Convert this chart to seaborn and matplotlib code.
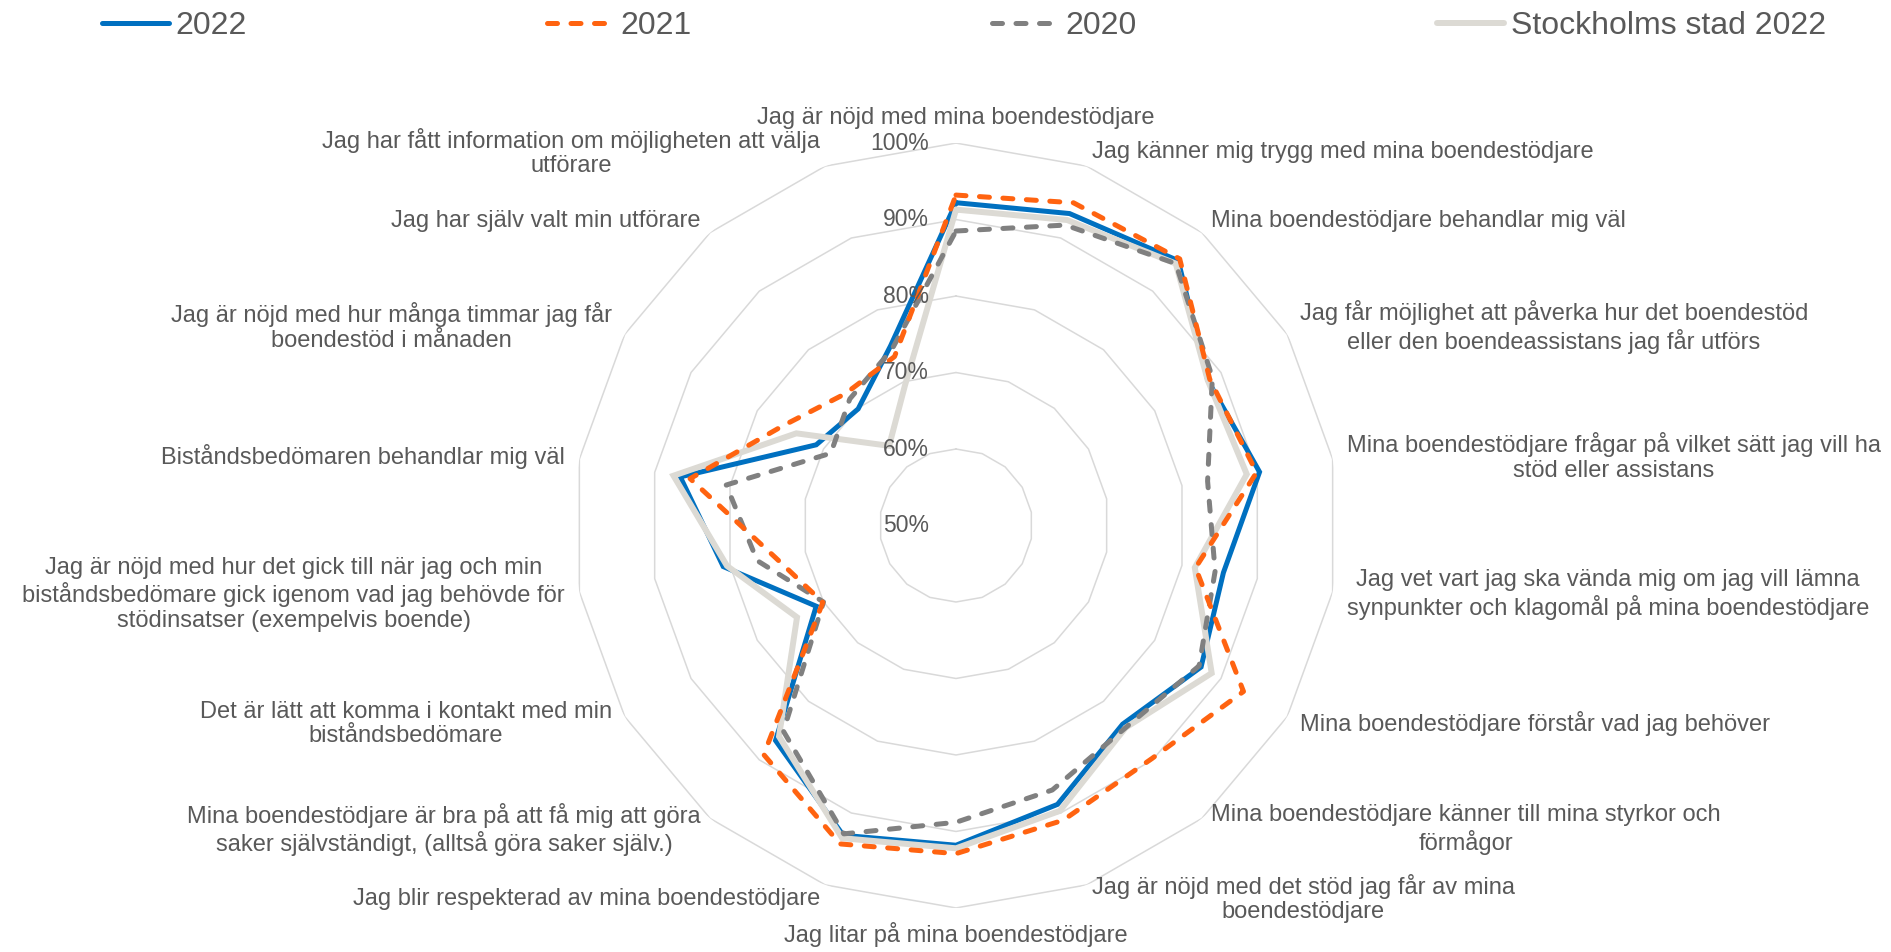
import numpy as np
import pandas as pd
import matplotlib
matplotlib.use("Agg")
import matplotlib.pyplot as plt
import seaborn as sns
from matplotlib.lines import Line2D

# ---------------- data ----------------
categories = [
    "Jag är nöjd med mina boendestödjare",
    "Jag känner mig trygg med mina boendestödjare",
    "Mina boendestödjare behandlar mig väl",
    "Jag får möjlighet att påverka hur det boendestöd\neller den boendeassistans jag får utförs",
    "Mina boendestödjare frågar på vilket sätt jag vill ha\nstöd eller assistans",
    "Jag vet vart jag ska vända mig om jag vill lämna\nsynpunkter och klagomål på mina boendestödjare",
    "Mina boendestödjare förstår vad jag behöver",
    "Mina boendestödjare känner till mina styrkor och\nförmågor",
    "Jag är nöjd med det stöd jag får av mina\nboendestödjare",
    "Jag litar på mina boendestödjare",
    "Jag blir respekterad av mina boendestödjare",
    "Mina boendestödjare är bra på att få mig att göra\nsaker självständigt, (alltså göra saker själv.)",
    "Det är lätt att komma i kontakt med min\nbiståndsbedömare",
    "Jag är nöjd med hur det gick till när jag och min\nbiståndsbedömare gick igenom vad jag behövde för\nstödinsatser (exempelvis boende)",
    "Biståndsbedömaren behandlar mig väl",
    "Jag är nöjd med hur många timmar jag får\nboendestöd i månaden",
    "Jag har själv valt min utförare",
    "Jag har fått information om möjligheten att välja\nutförare",
]

v2022 = [92.2, 93.4, 95.2, 88.0, 90.3, 85.5, 87.0, 83.9, 88.8,
         91.8, 93.1, 86.7, 71.1, 80.9, 86.6, 71.1, 69.9, 75.0]
v2021 = [93.2, 94.9, 95.5, 88.3, 89.9, 81.8, 93.4, 89.8, 91.0,
         92.9, 94.3, 89.1, 70.1, 74.0, 85.3, 76.1, 72.5, 73.5]
v2020 = [88.5, 91.8, 94.7, 88.7, 83.4, 84.4, 86.7, 84.5, 86.8,
         88.8, 92.9, 85.1, 70.0, 76.4, 80.5, 68.9, 71.6, 74.5]
vsthlm = [91.3, 92.5, 94.7, 88.0, 88.6, 81.7, 88.6, 84.5, 89.7,
          92.2, 93.5, 86.0, 74.0, 80.4, 87.5, 74.1, 63.6, 69.5]

series_names = ["2022", "2021", "2020", "Stockholms stad 2022"]
ticks = [50, 60, 70, 80, 90, 100]

# ---------------- style ----------------
sns.set_theme(style="white")
plt.rcParams["font.family"] = ["Liberation Sans", "DejaVu Sans"]
TXT = "#595959"

styles = {
    "2022": dict(color="#0070C0", lw=3.6, dash=None, z=3),
    "2021": dict(color="#FF6310", lw=3.6, dash=(2.0, 2.7), z=6),
    "2020": dict(color="#808080", lw=3.6, dash=(2.0, 2.7), z=5),
    "Stockholms stad 2022": dict(color="#DCDAD4", lw=4.3, dash=None, z=4),
}
values = {"2022": v2022, "2021": v2021, "2020": v2020, "Stockholms stad 2022": vsthlm}

fig = plt.figure(figsize=(18.91, 9.52), dpi=100)
ax = fig.add_axes([0.3033, 0.0462, 0.4045, 0.8036], projection="polar")
ax.set_theta_offset(np.pi / 2)
ax.set_theta_direction(-1)

n = len(categories)
theta = np.arange(n) * 2 * np.pi / n
closed = np.append(theta, 2 * np.pi)

# polygon grid rings
for t in ticks[1:]:
    ax.plot(closed, [t] * (n + 1), color="#D9D9D9", lw=1.1, zorder=1)

handles = []
for name in series_names:
    st = styles[name]
    vals = values[name]
    df = pd.DataFrame({"theta": closed, "value": list(vals) + [vals[0]]})
    sns.lineplot(data=df, x="theta", y="value", ax=ax, color=st["color"],
                 linewidth=st["lw"], sort=False, estimator=None, zorder=st["z"])
    line = ax.lines[-1]
    line.set_solid_capstyle("round")
    line.set_solid_joinstyle("miter")
    if st["dash"] is not None:
        line.set_dashes(st["dash"])
        line.set_dash_capstyle("round")
    h = Line2D([0], [0], color=st["color"], lw=st["lw"], solid_capstyle="round",
               dash_capstyle="round")
    if st["dash"] is not None:
        h.set_dashes(st["dash"])
    handles.append(h)

ax.set_ylim(50, 100)
ax.grid(False)
ax.spines["polar"].set_visible(False)
ax.set_xticks([])
ax.set_yticks([])
ax.set_xlabel("")
ax.set_ylabel("")
ax.set_facecolor("white")

# radial tick labels
for t in ticks:
    ax.annotate(f"{t}%", xy=(0, t), xytext=(-19.5, 0), textcoords="offset points",
                ha="right", va="center", fontsize=16.5, color=TXT,
                annotation_clip=False, zorder=10)

# category labels
for th, lab in zip(theta, categories):
    s, c = np.sin(th), np.cos(th)
    if abs(s) < 1e-6:
        ha = "center"
        va = "bottom" if c > 0 else "top"
    else:
        ha = "left" if s > 0 else "right"
        va = "center"
    ax.text(th, 101.9, lab, ha=ha, va=va, multialignment="center",
            fontsize=17, color=TXT, clip_on=False, linespacing=1.17)

fig.legend(handles, series_names, loc="upper left",
           bbox_to_anchor=(102 / 1891, 1 - 11 / 952), ncol=4, frameon=False,
           fontsize=23, handlelength=2.1, handletextpad=0.2, columnspacing=9.4,
           borderpad=0, borderaxespad=0, labelcolor=TXT)

fig.savefig("out.png", dpi=100)
